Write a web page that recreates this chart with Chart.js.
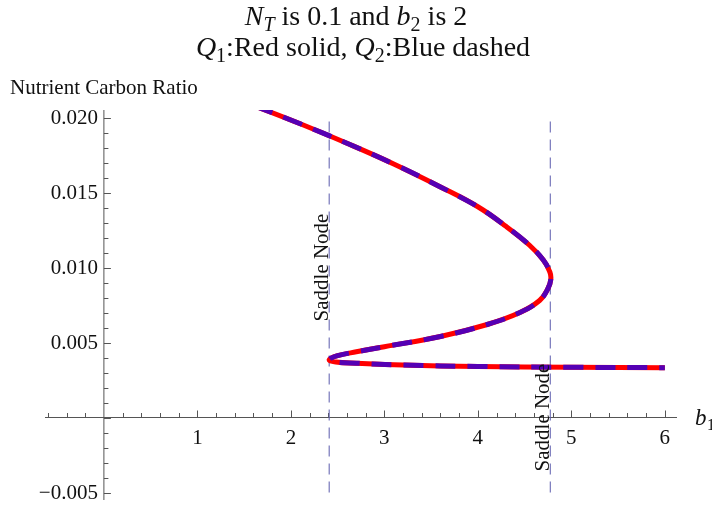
<!DOCTYPE html>
<html lang="en">
<head>
  <meta charset="UTF-8">
  <title>Nutrient Carbon Ratio vs b1</title>
  <script src="https://cdn.jsdelivr.net/npm/chart.js"></script>
  <style>
    html, body {
      margin: 0;
      padding: 0;
      background: #ffffff;
    }

    #wrap {
      position: relative;
      width: 712px;
      height: 506px;
    }
  </style>
</head>
<body>

  <div id="wrap"><canvas id="bifChart"></canvas></div>

  <script>
    // curve, in drawing order along the S-shaped branch
    const b1Values = [1.60, 2.10, 2.60, 3.10, 3.60, 4.00, 4.30, 4.55, 4.70, 4.77, 4.78, 4.75, 4.66, 4.45, 4.10, 3.60, 3.00, 2.70, 2.50, 2.41, 2.48, 2.70, 3.20, 4.00, 5.00, 6.00];
    const q1Values = [0.02080, 0.01958, 0.01828, 0.01690, 0.01537, 0.01405, 0.01275, 0.01150, 0.01050, 0.00970, 0.00920, 0.00860, 0.00780, 0.00700, 0.00620, 0.00540, 0.00472, 0.00438, 0.00412, 0.00385, 0.00370, 0.00362, 0.00350, 0.00340, 0.00335, 0.00332];
    const q2Values = [0.02080, 0.01958, 0.01828, 0.01690, 0.01537, 0.01405, 0.01275, 0.01150, 0.01050, 0.00970, 0.00920, 0.00860, 0.00780, 0.00700, 0.00620, 0.00540, 0.00472, 0.00438, 0.00412, 0.00385, 0.00370, 0.00362, 0.00350, 0.00340, 0.00335, 0.00332];

    // saddle node positions and the span of their marker lines
    const saddleB1 = [2.41, 4.775];
    const saddleSpan = [-0.005, 0.020];
    const saddleLabelQ = [0.010, 0.0];

    // axis ticks
    const xMajorTicks = [1, 2, 3, 4, 5, 6];
    const xTickLabels = ['1', '2', '3', '4', '5', '6'];
    const yMajorTicks = [-0.005, 0.005, 0.010, 0.015, 0.020];
    const yTickLabels = ['\u22120.005', '0.005', '0.010', '0.015', '0.020'];

    const serif = '"Liberation Serif", "Times New Roman", serif';
    const axisColor = '#555555';

    function toPoints(xs, ys) {
      return xs.map((x, i) => ({ x: x, y: ys[i] }));
    }

    // text with italic / subscript pieces
    function drawRich(ctx, parts, cx, base, size) {
      const fontOf = p => (p.italic ? 'italic ' : '') + Math.round(p.sub ? size * 0.7 : size) + 'px ' + serif;
      let total = 0;
      parts.forEach(p => { ctx.font = fontOf(p); total += ctx.measureText(p.t).width; });
      let x = cx - total / 2;
      ctx.textAlign = 'left';
      ctx.textBaseline = 'alphabetic';
      parts.forEach(p => {
        ctx.font = fontOf(p);
        ctx.fillText(p.t, x, base + (p.sub ? size * 0.22 : 0));
        x += ctx.measureText(p.t).width;
      });
    }

    const axesPlugin = {
      id: 'mmaAxes',
      beforeDatasetsDraw(chart) {
        const ctx = chart.ctx;
        const xs = chart.scales.x, ys = chart.scales.y;
        const x0 = xs.getPixelForValue(0), y0 = ys.getPixelForValue(0);
        ctx.save();
        ctx.strokeStyle = axisColor;
        ctx.lineWidth = 1;
        ctx.beginPath();
        ctx.moveTo(xs.left, y0); ctx.lineTo(xs.right, y0);
        ctx.moveTo(x0, ys.top); ctx.lineTo(x0, ys.bottom);
        // x ticks, pointing up
        for (let v = -0.6; v <= 6.05; v += 0.2) {
          const r = Math.round(v * 10) / 10;
          if (Math.abs(r) < 1e-9) continue;
          const px = Math.round(xs.getPixelForValue(r)) + 0.5;
          const len = Number.isInteger(r) ? 7 : 4.5;
          ctx.moveTo(px, y0); ctx.lineTo(px, y0 - len);
        }
        // y ticks, pointing right
        for (let k = -5; k <= 20; k++) {
          const v = k / 1000;
          const py = Math.round(ys.getPixelForValue(v)) + 0.5;
          const len = (k % 5 === 0) ? 7 : 4.5;
          ctx.moveTo(x0, py); ctx.lineTo(x0 + len, py);
        }
        ctx.stroke();

        ctx.fillStyle = '#111111';
        ctx.font = '21px ' + serif;
        ctx.textAlign = 'center';
        ctx.textBaseline = 'alphabetic';
        xMajorTicks.forEach((v, i) => {
          ctx.fillText(xTickLabels[i], xs.getPixelForValue(v), y0 + 26);
        });
        ctx.textAlign = 'right';
        ctx.textBaseline = 'middle';
        yMajorTicks.forEach((v, i) => {
          ctx.fillText(yTickLabels[i], x0 - 6, ys.getPixelForValue(v) + 1);
        });
        ctx.restore();
      },
      afterDatasetsDraw(chart) {
        const ctx = chart.ctx;
        const xs = chart.scales.x, ys = chart.scales.y;
        ctx.save();
        ctx.fillStyle = '#111111';

        // saddle node labels, rotated
        ctx.font = '21px ' + serif;
        saddleB1.forEach((b, i) => {
          ctx.save();
          ctx.translate(xs.getPixelForValue(b) - 1, ys.getPixelForValue(saddleLabelQ[i]));
          ctx.rotate(-Math.PI / 2);
          ctx.textAlign = 'center';
          ctx.textBaseline = 'alphabetic';
          ctx.fillText('Saddle Node', 0, 0);
          ctx.restore();
        });

        // titles
        drawRich(ctx, [
          { t: 'N', italic: true }, { t: 'T', italic: true, sub: true },
          { t: ' is 0.1 and ' }, { t: 'b', italic: true }, { t: '2', sub: true }, { t: ' is 2' }
        ], 356, 25, 28);
        drawRich(ctx, [
          { t: 'Q', italic: true }, { t: '1', sub: true }, { t: ':Red solid, ' },
          { t: 'Q', italic: true }, { t: '2', sub: true }, { t: ':Blue dashed' }
        ], 363, 56, 28);

        // axis labels
        ctx.font = '21px ' + serif;
        ctx.textAlign = 'left';
        ctx.textBaseline = 'alphabetic';
        ctx.fillText('Nutrient Carbon Ratio', 10, 94);
        ctx.font = 'italic 23px ' + serif;
        ctx.fillText('b', 695, 425);
        ctx.font = '16px ' + serif;
        ctx.fillText('1', 707, 430);
        ctx.restore();
      }
    };

    const datasets = [
      {
        label: 'Q2',
        data: toPoints(b1Values, q2Values),
        borderColor: '#5500b4',
        borderWidth: 5,
        borderDash: [20, 12],
        tension: 0.4,
        pointRadius: 0
      },
      {
        label: 'Q1',
        data: toPoints(b1Values, q1Values),
        borderColor: '#ff0000',
        borderWidth: 5,
        borderJoinStyle: 'round',
        tension: 0.4,
        pointRadius: 0
      }
    ];
    saddleB1.forEach(b => {
      datasets.push({
        label: 'Saddle Node',
        data: saddleSpan.map(q => ({ x: b, y: q })),
        borderColor: 'rgba(95, 95, 175, 0.85)',
        borderWidth: 1.2,
        borderDash: [11, 7],
        pointRadius: 0
      });
    });

    new Chart(document.getElementById('bifChart'), {
      type: 'scatter',
      data: { datasets: datasets },
      options: {
        responsive: true,
        maintainAspectRatio: false,
        animation: false,
        showLine: true,
        layout: { padding: { left: 45, right: 35, top: 110, bottom: 6 } },
        plugins: {
          legend: { display: false },
          title: { display: false },
          tooltip: { enabled: false }
        },
        scales: {
          x: { type: 'linear', min: -0.63, max: 6.13, display: false },
          y: { type: 'linear', min: -0.0055, max: 0.0205, display: false }
        }
      },
      plugins: [axesPlugin]
    });
  </script>

</body>
</html>
